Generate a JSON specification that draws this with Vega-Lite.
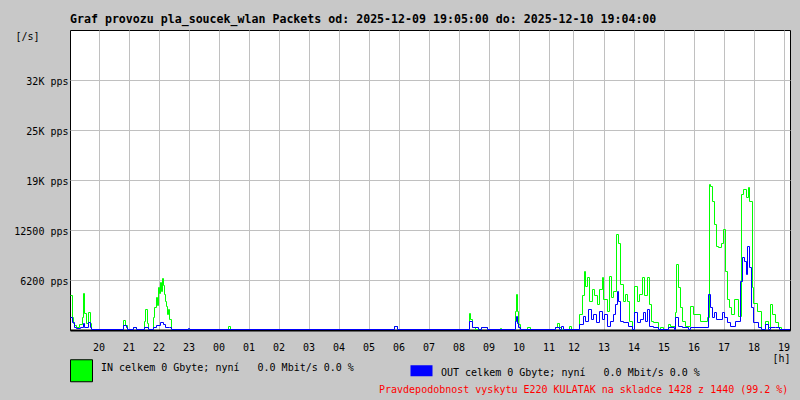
{
  "$schema": "https://vega.github.io/schema/vega-lite/v6.json",
  "width": 720,
  "height": 300,
  "autosize": {"type": "none"},
  "padding": {"left": 70, "top": 30, "right": 10, "bottom": 70},
  "background": "#c8c8c8",
  "title": {
    "text": "Graf provozu pla_soucek_wlan Packets od: 2025-12-09 19:05:00 do: 2025-12-10 19:04:00",
    "anchor": "start", "frame": "group", "font": "DejaVu Sans Mono", "fontSize": 11.6,
    "fontWeight": "bold", "color": "black", "offset": -5, "baseline": "alphabetic"
  },
  "config": {
    "font": "DejaVu Sans Mono",
    "view": {"fill": "white", "stroke": "black", "strokeWidth": 1}
  },
  "datasets": {
    "traffic": [
      {"m":0,"s":"IN","v":4250},{"m":4,"s":"IN","v":1500},{"m":6,"s":"IN","v":750},{"m":8,"s":"IN","v":500},{"m":12,"s":"IN","v":250},{"m":18,"s":"IN","v":625},{"m":24,"s":"IN","v":1500},{"m":26,"s":"IN","v":4500},{"m":28,"s":"IN","v":2000},{"m":32,"s":"IN","v":750},{"m":36,"s":"IN","v":2125},{"m":40,"s":"IN","v":750},{"m":42,"s":"IN","v":0},
      {"m":106,"s":"IN","v":1125},{"m":110,"s":"IN","v":500},{"m":114,"s":"IN","v":0},{"m":126,"s":"IN","v":250},{"m":132,"s":"IN","v":0},
      {"m":148,"s":"IN","v":1000},{"m":150,"s":"IN","v":2500},{"m":154,"s":"IN","v":750},{"m":156,"s":"IN","v":0},
      {"m":166,"s":"IN","v":1500},{"m":168,"s":"IN","v":2750},{"m":172,"s":"IN","v":4000},{"m":174,"s":"IN","v":3000},{"m":176,"s":"IN","v":5250},{"m":178,"s":"IN","v":4500},{"m":180,"s":"IN","v":5875},{"m":182,"s":"IN","v":4750},{"m":184,"s":"IN","v":6375},{"m":186,"s":"IN","v":5500},{"m":188,"s":"IN","v":4375},{"m":190,"s":"IN","v":3500},{"m":192,"s":"IN","v":2875},{"m":194,"s":"IN","v":1875},{"m":196,"s":"IN","v":2500},{"m":198,"s":"IN","v":1250},{"m":202,"s":"IN","v":0},
      {"m":316,"s":"IN","v":375},{"m":320,"s":"IN","v":0},{"m":648,"s":"IN","v":375},{"m":654,"s":"IN","v":0},
      {"m":798,"s":"IN","v":2000},{"m":800,"s":"IN","v":1250},{"m":804,"s":"IN","v":250},{"m":810,"s":"IN","v":0},{"m":822,"s":"IN","v":250},{"m":834,"s":"IN","v":0},{"m":860,"s":"IN","v":125},{"m":862,"s":"IN","v":0},
      {"m":890,"s":"IN","v":2250},{"m":892,"s":"IN","v":4375},{"m":894,"s":"IN","v":2250},{"m":896,"s":"IN","v":625},{"m":900,"s":"IN","v":0},{"m":914,"s":"IN","v":250},{"m":920,"s":"IN","v":0},
      {"m":970,"s":"IN","v":250},{"m":974,"s":"IN","v":750},{"m":978,"s":"IN","v":250},{"m":982,"s":"IN","v":0},{"m":998,"s":"IN","v":375},{"m":1002,"s":"IN","v":0},
      {"m":1018,"s":"IN","v":1875},{"m":1024,"s":"IN","v":4250},{"m":1028,"s":"IN","v":7250},{"m":1030,"s":"IN","v":5375},{"m":1034,"s":"IN","v":6500},{"m":1038,"s":"IN","v":3500},{"m":1044,"s":"IN","v":5000},{"m":1048,"s":"IN","v":4250},{"m":1054,"s":"IN","v":3125},{"m":1058,"s":"IN","v":5000},{"m":1064,"s":"IN","v":6500},{"m":1066,"s":"IN","v":3750},{"m":1074,"s":"IN","v":2250},{"m":1078,"s":"IN","v":6625},{"m":1082,"s":"IN","v":4000},{"m":1086,"s":"IN","v":4750},{"m":1092,"s":"IN","v":11875},{"m":1096,"s":"IN","v":10750},{"m":1100,"s":"IN","v":5625},{"m":1106,"s":"IN","v":3500},{"m":1110,"s":"IN","v":4375},{"m":1114,"s":"IN","v":3500},{"m":1118,"s":"IN","v":1000},{"m":1124,"s":"IN","v":0},
      {"m":1128,"s":"IN","v":5375},{"m":1134,"s":"IN","v":3500},{"m":1138,"s":"IN","v":4375},{"m":1144,"s":"IN","v":6500},{"m":1148,"s":"IN","v":4250},{"m":1154,"s":"IN","v":6500},{"m":1158,"s":"IN","v":3125},{"m":1162,"s":"IN","v":1000},{"m":1166,"s":"IN","v":875},{"m":1176,"s":"IN","v":0},{"m":1180,"s":"IN","v":250},{"m":1186,"s":"IN","v":0},
      {"m":1196,"s":"IN","v":625},{"m":1200,"s":"IN","v":375},{"m":1210,"s":"IN","v":2125},{"m":1212,"s":"IN","v":8125},{"m":1216,"s":"IN","v":5250},{"m":1220,"s":"IN","v":2750},{"m":1224,"s":"IN","v":1000},{"m":1230,"s":"IN","v":375},{"m":1240,"s":"IN","v":2875},{"m":1246,"s":"IN","v":1875},{"m":1260,"s":"IN","v":1000},{"m":1274,"s":"IN","v":1500},
      {"m":1278,"s":"IN","v":18125},{"m":1280,"s":"IN","v":17875},{"m":1284,"s":"IN","v":16000},{"m":1288,"s":"IN","v":13125},{"m":1292,"s":"IN","v":10375},{"m":1296,"s":"IN","v":10250},{"m":1302,"s":"IN","v":10750},{"m":1306,"s":"IN","v":12500},{"m":1310,"s":"IN","v":7250},{"m":1314,"s":"IN","v":3750},{"m":1318,"s":"IN","v":2750},{"m":1322,"s":"IN","v":1875},{"m":1328,"s":"IN","v":3750},{"m":1336,"s":"IN","v":1625},
      {"m":1342,"s":"IN","v":16875},{"m":1346,"s":"IN","v":17500},{"m":1352,"s":"IN","v":16500},{"m":1356,"s":"IN","v":17750},{"m":1358,"s":"IN","v":16000},{"m":1364,"s":"IN","v":5250},{"m":1366,"s":"IN","v":3250},{"m":1374,"s":"IN","v":2250},{"m":1382,"s":"IN","v":0},
      {"m":1390,"s":"IN","v":1000},{"m":1396,"s":"IN","v":250},{"m":1400,"s":"IN","v":3125},{"m":1404,"s":"IN","v":1875},{"m":1410,"s":"IN","v":875},{"m":1416,"s":"IN","v":250},{"m":1422,"s":"IN","v":0},{"m":1439,"s":"IN","v":0},

      {"m":0,"s":"OUT","v":1500},{"m":4,"s":"OUT","v":875},{"m":8,"s":"OUT","v":250},{"m":12,"s":"OUT","v":125},{"m":20,"s":"OUT","v":250},{"m":26,"s":"OUT","v":750},{"m":28,"s":"OUT","v":250},{"m":36,"s":"OUT","v":875},{"m":40,"s":"OUT","v":250},{"m":42,"s":"OUT","v":0},
      {"m":106,"s":"OUT","v":500},{"m":112,"s":"OUT","v":250},{"m":114,"s":"OUT","v":0},{"m":126,"s":"OUT","v":250},{"m":132,"s":"OUT","v":0},{"m":148,"s":"OUT","v":250},{"m":156,"s":"OUT","v":0},
      {"m":166,"s":"OUT","v":250},{"m":172,"s":"OUT","v":500},{"m":180,"s":"OUT","v":875},{"m":186,"s":"OUT","v":625},{"m":190,"s":"OUT","v":250},{"m":198,"s":"OUT","v":250},{"m":202,"s":"OUT","v":0},
      {"m":236,"s":"OUT","v":125},{"m":238,"s":"OUT","v":0},{"m":648,"s":"OUT","v":375},{"m":654,"s":"OUT","v":0},
      {"m":798,"s":"OUT","v":1000},{"m":804,"s":"OUT","v":250},{"m":816,"s":"OUT","v":0},{"m":822,"s":"OUT","v":250},{"m":834,"s":"OUT","v":0},
      {"m":890,"s":"OUT","v":1000},{"m":892,"s":"OUT","v":1625},{"m":894,"s":"OUT","v":750},{"m":896,"s":"OUT","v":250},{"m":900,"s":"OUT","v":0},
      {"m":970,"s":"OUT","v":250},{"m":978,"s":"OUT","v":0},{"m":982,"s":"OUT","v":375},{"m":986,"s":"OUT","v":0},
      {"m":1018,"s":"OUT","v":625},{"m":1026,"s":"OUT","v":1625},{"m":1030,"s":"OUT","v":1000},{"m":1036,"s":"OUT","v":2500},{"m":1042,"s":"OUT","v":1250},{"m":1046,"s":"OUT","v":1875},{"m":1052,"s":"OUT","v":875},{"m":1058,"s":"OUT","v":2250},{"m":1064,"s":"OUT","v":1250},{"m":1068,"s":"OUT","v":1875},{"m":1074,"s":"OUT","v":375},{"m":1080,"s":"OUT","v":1000},{"m":1086,"s":"OUT","v":1875},{"m":1090,"s":"OUT","v":3125},{"m":1094,"s":"OUT","v":4750},{"m":1096,"s":"OUT","v":3500},{"m":1100,"s":"OUT","v":1000},{"m":1106,"s":"OUT","v":875},{"m":1116,"s":"OUT","v":375},{"m":1124,"s":"OUT","v":0},
      {"m":1128,"s":"OUT","v":2125},{"m":1134,"s":"OUT","v":875},{"m":1140,"s":"OUT","v":1250},{"m":1146,"s":"OUT","v":2125},{"m":1150,"s":"OUT","v":1000},{"m":1154,"s":"OUT","v":2500},{"m":1158,"s":"OUT","v":375},{"m":1166,"s":"OUT","v":250},{"m":1176,"s":"OUT","v":0},
      {"m":1196,"s":"OUT","v":250},{"m":1208,"s":"OUT","v":0},{"m":1210,"s":"OUT","v":1500},{"m":1216,"s":"OUT","v":375},{"m":1224,"s":"OUT","v":250},{"m":1236,"s":"OUT","v":0},{"m":1240,"s":"OUT","v":250},
      {"m":1276,"s":"OUT","v":4375},{"m":1280,"s":"OUT","v":2750},{"m":1284,"s":"OUT","v":1500},{"m":1288,"s":"OUT","v":2125},{"m":1292,"s":"OUT","v":1250},{"m":1304,"s":"OUT","v":2125},{"m":1308,"s":"OUT","v":1500},{"m":1314,"s":"OUT","v":875},{"m":1320,"s":"OUT","v":375},{"m":1330,"s":"OUT","v":1000},
      {"m":1340,"s":"OUT","v":6000},{"m":1344,"s":"OUT","v":9000},{"m":1348,"s":"OUT","v":8500},{"m":1352,"s":"OUT","v":6875},{"m":1354,"s":"OUT","v":10375},{"m":1358,"s":"OUT","v":7750},{"m":1362,"s":"OUT","v":2750},{"m":1366,"s":"OUT","v":875},{"m":1376,"s":"OUT","v":250},{"m":1382,"s":"OUT","v":0},
      {"m":1390,"s":"OUT","v":625},{"m":1396,"s":"OUT","v":0},{"m":1400,"s":"OUT","v":250},{"m":1410,"s":"OUT","v":250},{"m":1418,"s":"OUT","v":0},{"m":1439,"s":"OUT","v":0}
    ]
  },
  "data": {"name": "traffic"},
  "layer": [
    {
      "mark": {"type": "line", "interpolate": "step-after", "strokeWidth": 1},
      "encoding": {
        "x": {
          "field": "m", "type": "quantitative",
          "scale": {"domain": [-1, 1439], "nice": false, "zero": false},
          "axis": {
            "values": [56,116,176,236,296,356,416,476,536,596,656,716,776,836,896,956,1006,1066,1126,1186,1246,1306,1366,1426],
            "tickCount": 40,
            "labelExpr": "datum.value < 990 ? format((20 + floor(datum.value / 60)) % 24, '02d') : format(12 + round((datum.value - 1006) / 60), '02d')",
            "domain": true, "domainColor": "black", "domainWidth": 2,
            "ticks": false, "tickSize": 0,
            "grid": true, "gridColor": "#c0c0c0", "gridOpacity": 1, "gridWidth": 1,
            "labelFont": "DejaVu Sans Mono", "labelFontSize": 10, "labelColor": "black",
            "labelPadding": 20, "labelBaseline": "alphabetic", "labelAlign": "center",
            "labelFlush": false, "labelOverlap": false,
            "title": "[h]", "titleX": 720, "titleY": 31, "titleAlign": "right",
            "titleBaseline": "alphabetic", "titleFont": "DejaVu Sans Mono", "titleFontSize": 10,
            "titleFontWeight": "normal", "titleColor": "black"
          }
        },
        "y": {
          "field": "v", "type": "quantitative",
          "scale": {"domain": [-62.5, 37437.5], "nice": false, "zero": false},
          "axis": {
            "values": [6250, 12500, 18750, 25000, 31250],
            "tickCount": 10,
            "labelExpr": "datum.value == 6250 ? '6200 pps' : datum.value == 12500 ? '12500 pps' : datum.value == 18750 ? '19K pps' : datum.value == 25000 ? '25K pps' : '32K pps'",
            "domain": false, "ticks": false, "tickSize": 0,
            "grid": true, "gridColor": "#c0c0c0", "gridOpacity": 1, "gridWidth": 1,
            "labelFont": "DejaVu Sans Mono", "labelFontSize": 10, "labelColor": "black",
            "labelPadding": 2, "labelAlign": "right", "labelBaseline": "middle", "labelOffset": 2,
            "labelOverlap": false, "labelFlush": false,
            "title": "[/s]", "titleAngle": 0, "titleX": -55, "titleY": 9, "titleAlign": "left",
            "titleBaseline": "alphabetic", "titleFont": "DejaVu Sans Mono", "titleFontSize": 10,
            "titleFontWeight": "normal", "titleColor": "black"
          }
        },
        "stroke": {
          "field": "s", "type": "nominal",
          "scale": {"domain": ["IN", "OUT"], "range": ["#00ff00", "#0000ff"]},
          "legend": null
        }
      }
    },
    {
      "transform": [{"filter": "false"}],
      "mark": {"type": "point", "filled": true, "opacity": 1},
      "encoding": {
        "x": {"field": "m", "type": "quantitative"},
        "y": {"field": "v", "type": "quantitative"},
        "fill": {
          "field": "legendSeries", "type": "nominal",
          "scale": {"domain": ["in", "out"], "range": ["#00ff00", "#0000ff"]},
          "legend": {
            "orient": "none", "legendX": 0, "legendY": 329, "direction": "horizontal",
            "title": null, "padding": 0,
            "symbolType": {"expr": "datum.value == 'in' ? 'square' : 'M-1,-1H1V0H-1Z'"},
            "symbolSize": 484,
            "symbolStrokeColor": {"expr": "datum.value == 'in' ? 'black' : 'transparent'"},
            "symbolStrokeWidth": 1, "symbolOpacity": 1,
            "labelExpr": "datum.value == 'in' ? 'IN celkem 0 Gbyte; nyní\u00a0\u00a0\u00a00.0 Mbit/s 0.0 %' : 'OUT celkem 0 Gbyte; nyní\u00a0\u00a0\u00a00.0 Mbit/s 0.0 %'",
            "labelFont": "DejaVu Sans Mono", "labelFontSize": 10, "labelColor": "black",
            "labelLimit": 0, "labelOffset": 8, "labelBaseline": "alphabetic",
            "columnPadding": 54
          }
        },
        "shape": {
          "datum": "Pravdepodobnost vyskytu E220 KULATAK na skladce 1428 z 1440 (99.2 %)",
          "type": "nominal",
          "scale": {"domain": ["Pravdepodobnost vyskytu E220 KULATAK na skladce 1428 z 1440 (99.2 %)"], "range": ["square"]},
          "legend": {
            "orient": "none", "legendX": 299, "legendY": 357.5, "title": null, "padding": 0,
            "symbolSize": 1, "symbolOpacity": 0, "symbolStrokeWidth": 0,
            "labelFont": "DejaVu Sans Mono", "labelFontSize": 10, "labelColor": "#ff0000",
            "labelLimit": 0, "labelOffset": 0, "labelBaseline": "alphabetic"
          }
        }
      }
    }
  ]
}
